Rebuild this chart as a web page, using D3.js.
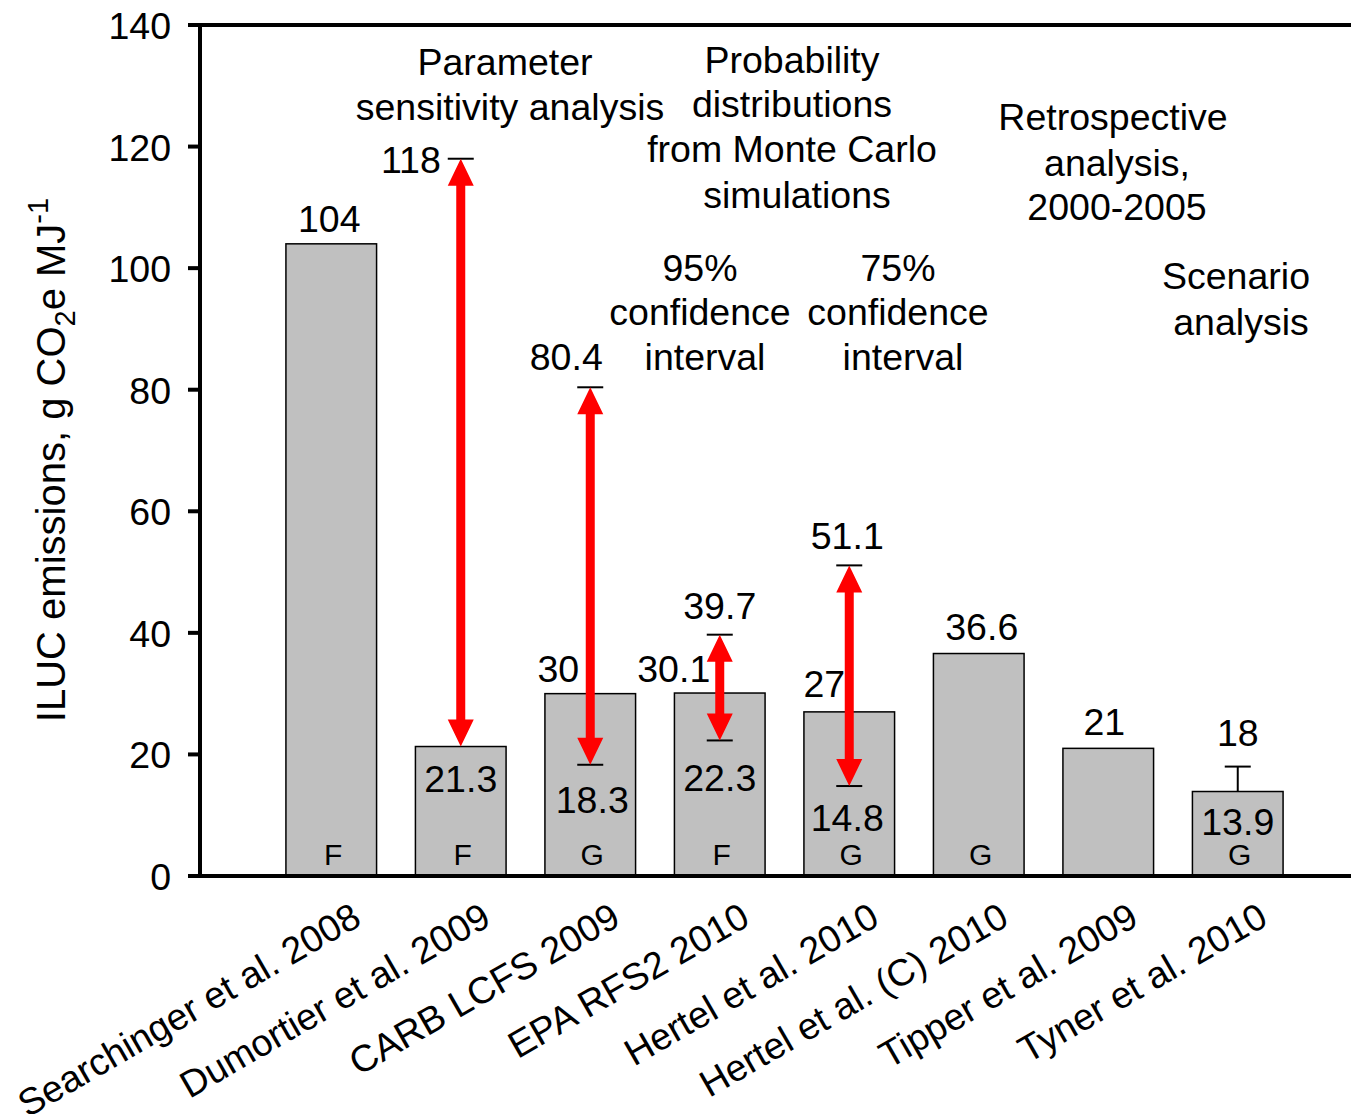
<!DOCTYPE html>
<html>
<head>
<meta charset="utf-8">
<script src="https://cdn.jsdelivr.net/npm/d3@7"></script>
<style>
  body { margin: 0; background: #fff; }
  text { font-family: "Liberation Sans", Arial, sans-serif; fill: #000; }
</style>
</head>
<body>
<svg width="1351" height="1114"></svg>
<script>
var width = 1351;
var height = 1114;
var fontSize = "37.5px";

// data
var studies = ["Searchinger et al. 2008", "Dumortier et al. 2009", "CARB LCFS 2009", "EPA RFS2 2010",
               "Hertel et al. 2010", "Hertel et al. (C) 2010", "Tipper et al. 2009", "Tyner et al. 2010"];
var emissions = [104, 21.3, 30, 30.1, 27, 36.6, 21, 13.9];
var fuelType = ["F", "F", "G", "F", "G", "G", "", "G"];
// red double arrows (low, high)
var rangeStudy = ["Dumortier et al. 2009", "CARB LCFS 2009", "EPA RFS2 2010", "Hertel et al. 2010"];
var rangeLow = [21.3, 18.3, 22.3, 14.8];
var rangeHigh = [118, 80.4, 39.7, 51.1];
var lowCap = [false, true, true, true];
// plain error bar for Tyner
var errStudy = ["Tyner et al. 2010"];
var errHigh = [18];
var yTicks = [0, 20, 40, 60, 80, 100, 120, 140];

var svg = d3.select("svg");

var x = d3.scaleBand()
    .domain(studies)
    .range([266.5, 1302.5])
    .paddingInner(0.3)
    .paddingOuter(0.15);
var y = d3.scaleLinear()
    .domain([0, 140])
    .range([876, 25]);

//bars
var bars = svg.selectAll(".bar")
    .data(studies)
    .enter()
    .append("g")
      .classed("bar", true);
bars.append("rect")
    .attr("x", d => x(d))
    .attr("y", (d, i) => y(emissions[i]))
    .attr("width", x.bandwidth())
    .attr("height", (d, i) => y(0) - y(emissions[i]))
    .attr("fill", "#c0c0c0")
    .attr("stroke", "#000")
    .attr("stroke-width", 1.5);
// F / G letters
bars.append("text")
    .text((d, i) => fuelType[i])
    .attr("x", d => x(d) + x.bandwidth() / 2 + 2)
    .attr("y", 865)
    .attr("text-anchor", "middle")
    .style("font-size", "30px");

// caps and arrows
var capW = 13;
function cap(cx, v) {
    svg.append("line")
        .attr("x1", cx - capW).attr("x2", cx + capW)
        .attr("y1", y(v)).attr("y2", y(v))
        .attr("stroke", "#000").attr("stroke-width", 2);
}
rangeStudy.forEach(function(s, i) {
    var cx = x(s) + x.bandwidth() / 2;
    cap(cx, rangeHigh[i]);
    if (lowCap[i]) cap(cx, rangeLow[i]);
});
errStudy.forEach(function(s, i) {
    var cx = x(s) + x.bandwidth() / 2;
    var base = emissions[studies.indexOf(s)];
    svg.append("line")
        .attr("x1", cx).attr("x2", cx)
        .attr("y1", y(base)).attr("y2", y(errHigh[i]))
        .attr("stroke", "#000").attr("stroke-width", 2);
    cap(cx, errHigh[i]);
});
var headL = 27, headW = 13, shaftW = 4.5;
svg.selectAll(".arrow")
    .data(rangeStudy)
    .enter()
    .append("path")
      .classed("arrow", true)
      .attr("fill", "#ff0000")
      .attr("d", function(s, i) {
          var cx = x(s) + x.bandwidth() / 2;
          var t = y(rangeHigh[i]), b = y(rangeLow[i]);
          var p = d3.path();
          p.moveTo(cx, t);
          p.lineTo(cx + headW, t + headL);
          p.lineTo(cx + shaftW, t + headL);
          p.lineTo(cx + shaftW, b - headL);
          p.lineTo(cx + headW, b - headL);
          p.lineTo(cx, b);
          p.lineTo(cx - headW, b - headL);
          p.lineTo(cx - shaftW, b - headL);
          p.lineTo(cx - shaftW, t + headL);
          p.lineTo(cx - headW, t + headL);
          p.closePath();
          return p.toString();
      });

// value labels: study, text, dx from bar center, baseline y
var labelStudy = ["Searchinger et al. 2008", "Dumortier et al. 2009", "Dumortier et al. 2009",
                  "CARB LCFS 2009", "CARB LCFS 2009", "CARB LCFS 2009",
                  "EPA RFS2 2010", "EPA RFS2 2010", "EPA RFS2 2010",
                  "Hertel et al. 2010", "Hertel et al. 2010", "Hertel et al. 2010",
                  "Hertel et al. (C) 2010", "Tipper et al. 2009", "Tyner et al. 2010", "Tyner et al. 2010"];
var labelText = ["104", "118", "21.3", "30", "80.4", "18.3", "30.1", "39.7", "22.3",
                 "27", "51.1", "14.8", "36.6", "21", "18", "13.9"];
var labelDx = [-2, -20, 0, -32, -24, 2, -46, 0, 0, -25, -2, -2, 3, -4, 0, 0];
var labelY = [232, 173, 792, 682, 370, 813, 682, 619, 791, 697, 549, 831, 640, 735, 746, 835];
var labelAnchor = ["middle", "end", "middle", "middle", "middle", "middle", "middle", "middle",
                   "middle", "middle", "middle", "middle", "middle", "middle", "middle", "middle"];
svg.selectAll(".vlabel")
    .data(labelText)
    .enter()
    .append("text")
      .classed("vlabel", true)
      .text(d => d)
      .attr("x", (d, i) => x(labelStudy[i]) + x.bandwidth() / 2 + labelDx[i])
      .attr("y", (d, i) => labelY[i])
      .attr("text-anchor", (d, i) => labelAnchor[i])
      .style("font-size", fontSize);

// annotation blocks
var noteLines = ["Parameter", "sensitivity analysis", "Probability", "distributions", "from Monte Carlo",
                 "simulations", "Retrospective", "analysis,", "2000-2005", "95%", "confidence", "interval",
                 "75%", "confidence", "interval", "Scenario", "analysis"];
var noteX = [505, 510, 792, 792, 792, 797, 1113, 1117, 1117, 700, 700, 705, 898, 898, 903, 1236, 1241];
var noteY = [75, 120, 73, 117, 162, 208, 130, 176, 220, 281, 325, 370, 281, 325, 370, 289, 335];
svg.selectAll(".note")
    .data(noteLines)
    .enter()
    .append("text")
      .classed("note", true)
      .text(d => d)
      .attr("x", (d, i) => noteX[i])
      .attr("y", (d, i) => noteY[i])
      .attr("text-anchor", "middle")
      .style("font-size", fontSize);

// frame: left axis, top and bottom lines
svg.append("line").attr("x1", 200).attr("x2", 200).attr("y1", y(140) - 2).attr("y2", y(0) + 2)
    .attr("stroke", "#000").attr("stroke-width", 4);
svg.append("line").attr("x1", 188).attr("x2", width).attr("y1", y(140)).attr("y2", y(140))
    .attr("stroke", "#000").attr("stroke-width", 4);
svg.append("line").attr("x1", 188).attr("x2", width).attr("y1", y(0)).attr("y2", y(0))
    .attr("stroke", "#000").attr("stroke-width", 4);
svg.selectAll(".tick")
    .data(yTicks)
    .enter()
    .append("line")
      .classed("tick", true)
      .attr("x1", 188).attr("x2", 200)
      .attr("y1", d => y(d)).attr("y2", d => y(d))
      .attr("stroke", "#000").attr("stroke-width", 4);
svg.selectAll(".ytext")
    .data(yTicks)
    .enter()
    .append("text")
      .classed("ytext", true)
      .text(d => d)
      .attr("x", 171)
      .attr("y", d => y(d) + 14)
      .attr("text-anchor", "end")
      .style("font-size", fontSize);

// y title with sub/superscript
var ytitle = svg.append("text")
    .attr("transform", "translate(65,460) rotate(-90)")
    .attr("text-anchor", "middle")
    .style("font-size", "40px");
ytitle.append("tspan").text("ILUC emissions, g CO");
ytitle.append("tspan").text("2").attr("dy", 10).style("font-size", "29px");
ytitle.append("tspan").text("e MJ").attr("dy", -10);
ytitle.append("tspan").text("-1").attr("dy", -17).style("font-size", "29px");

// rotated category labels
svg.selectAll(".xlabel")
    .data(studies)
    .enter()
    .append("text")
      .classed("xlabel", true)
      .text(d => d)
      .attr("text-anchor", "end")
      .attr("transform", d => "translate(" + (x(d) + x.bandwidth() / 2 + 32) + ",924) rotate(-30)")
      .style("font-size", fontSize);
</script>
</body>
</html>
